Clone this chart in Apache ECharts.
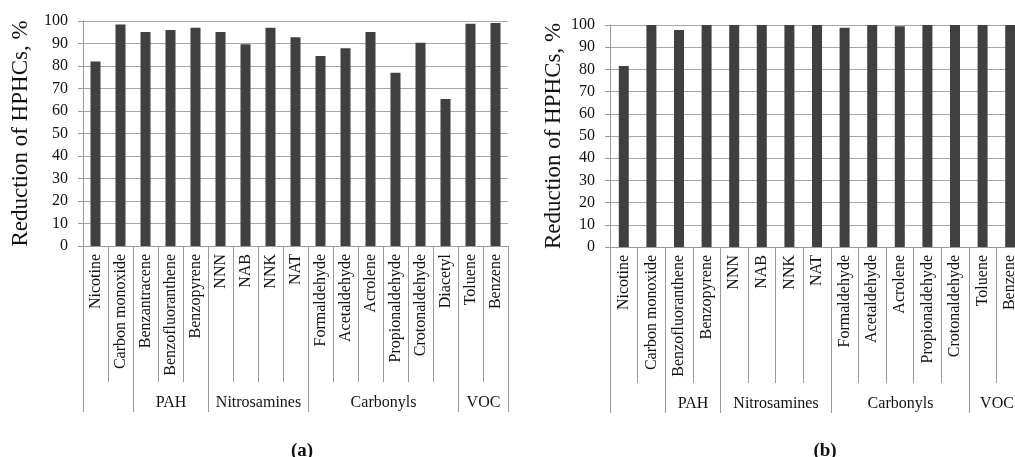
<!DOCTYPE html>
<html>
<head>
<meta charset="utf-8">
<script src="https://cdn.jsdelivr.net/npm/echarts@6/dist/echarts.min.js"></script>
<style>
html,body{margin:0;padding:0;background:#fff;overflow:hidden;}
#main{width:1026px;height:457px;}
</style>
</head>
<body>
<div id="main"></div>
<script>
// ---- Data ----
const catsA = ['Nicotine','Carbon monoxide','Benzantracene','Benzofluoranthene','Benzopyrene','NNN','NAB','NNK','NAT','Formaldehyde','Acetaldehyde','Acrolene','Propionaldehyde','Crotonaldehyde','Diacetyl','Toluene','Benzene'];
const valsA = [82.0, 98.5, 95.1, 96.0, 97.0, 95.1, 89.7, 97.0, 92.8, 84.5, 87.9, 95.1, 77.0, 90.3, 65.3, 98.8, 99.1];
const groupNamesA = ['', 'PAH', 'Nitrosamines', 'Carbonyls', 'VOC'];
const groupStartA = [0, 2, 5, 9, 15];
const groupEndA   = [1, 4, 8, 14, 16];

const catsB = ['Nicotine','Carbon monoxide','Benzofluoranthene','Benzopyrene','NNN','NAB','NNK','NAT','Formaldehyde','Acetaldehyde','Acrolene','Propionaldehyde','Crotonaldehyde','Toluene','Benzene'];
const valsB = [81.5, 100, 97.7, 100, 100, 100, 100, 100, 98.8, 100, 99.4, 100, 100, 100, 100];
const groupNamesB = ['', 'PAH', 'Nitrosamines', 'Carbonyls', 'VOC'];
const groupStartB = [0, 2, 4, 8, 13];
const groupEndB   = [1, 3, 7, 12, 14];

const yTicks = {min: 0, max: 100, interval: 10};
const yName = 'Reduction of HPHCs, %';
const captions = ['(a)', '(b)'];

// ---- Styles ----
const FONT = '"Liberation Serif", "Times New Roman", serif';
const BAR = '#404040';
const GRIDC = '#a8a8a8';
const AXISC = '#9a9a9a';
const TXT = '#111';
const TICKLEN = 136;
const GROUPEXT = 30;

function xAxisCfg(idx, cats) {
  return {
    type: 'category', gridIndex: idx, data: cats,
    axisLine: {show: true, lineStyle: {color: AXISC, width: 1}},
    axisTick: {show: true, length: TICKLEN, alignWithLabel: false, lineStyle: {color: AXISC, width: 1}},
    axisLabel: {rotate: 90, interval: 0, fontFamily: FONT, fontSize: 16, color: TXT, margin: 8},
    splitLine: {show: false}
  };
}
function yAxisCfg(idx, gap) {
  return {
    type: 'value', gridIndex: idx, min: yTicks.min, max: yTicks.max, interval: yTicks.interval,
    name: yName, nameLocation: 'middle', nameGap: gap, nameRotate: 90,
    nameTextStyle: {fontFamily: FONT, fontSize: 23, color: TXT},
    axisLine: {show: true, lineStyle: {color: AXISC, width: 1}},
    axisTick: {show: true, length: 5, lineStyle: {color: AXISC}},
    axisLabel: {fontFamily: FONT, fontSize: 16, color: TXT, margin: 15},
    splitLine: {show: true, lineStyle: {color: GRIDC, width: 1}}
  };
}
function groupSeries(idx, names, starts, ends) {
  return {
    type: 'custom', xAxisIndex: idx, yAxisIndex: idx, clip: false, silent: true,
    data: starts.map((s, i) => [s, 0, ends[i]]),
    encode: {x: 0, y: 1},
    renderItem: function (params, api) {
      const band = api.size([1, 0])[0];
      const p0 = api.coord([api.value(0), 0]);
      const p1 = api.coord([api.value(2), 0]);
      const x0 = Math.round(p0[0] - band / 2) + 0.5;
      const x1 = Math.round(p1[0] + band / 2) + 0.5;
      const yb = p0[1];
      const children = [
        {type: 'line', shape: {x1: x0, y1: yb, x2: x0, y2: yb + TICKLEN + GROUPEXT}, style: {stroke: AXISC, lineWidth: 1}},
        {type: 'line', shape: {x1: x1, y1: yb, x2: x1, y2: yb + TICKLEN + GROUPEXT}, style: {stroke: AXISC, lineWidth: 1}}
      ];
      const nm = names[params.dataIndex];
      if (nm) {
        children.push({type: 'text', x: (x0 + x1) / 2, y: yb + TICKLEN + 21,
          style: {text: nm, fontFamily: FONT, fontSize: 16, fill: TXT, align: 'center', verticalAlign: 'middle'}});
      }
      return {type: 'group', children: children};
    }
  };
}

const chart = echarts.init(document.getElementById('main'), null, {renderer: 'canvas'});
chart.setOption({
  backgroundColor: '#fff',
  animation: false,
  title: [
    {text: captions[0], left: 297, top: 437, textAlign: 'center', textStyle: {fontFamily: FONT, fontSize: 19, fontWeight: 'bold', color: TXT}},
    {text: captions[1], left: 820, top: 437, textAlign: 'center', textStyle: {fontFamily: FONT, fontSize: 19, fontWeight: 'bold', color: TXT}}
  ],
  grid: [
    {left: 83, top: 21, width: 425, height: 225, containLabel: false},
    {left: 610, top: 25, width: 414, height: 222, containLabel: false}
  ],
  xAxis: [xAxisCfg(0, catsA), xAxisCfg(1, catsB)],
  yAxis: [yAxisCfg(0, 51), yAxisCfg(1, 45)],
  series: [
    {type: 'bar', xAxisIndex: 0, yAxisIndex: 0, data: valsA, barWidth: 10, itemStyle: {color: BAR}},
    {type: 'bar', xAxisIndex: 1, yAxisIndex: 1, data: valsB, barWidth: 10, itemStyle: {color: BAR}},
    groupSeries(0, groupNamesA, groupStartA, groupEndA),
    groupSeries(1, groupNamesB, groupStartB, groupEndB)
  ]
});
</script>
</body>
</html>
